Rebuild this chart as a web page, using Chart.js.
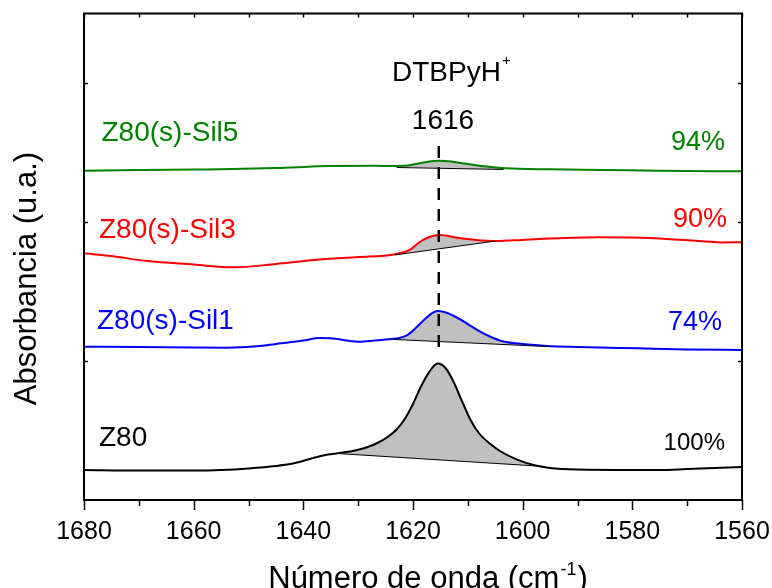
<!DOCTYPE html>
<html>
<head>
<meta charset="utf-8">
<script src="https://cdn.jsdelivr.net/npm/chart.js@4/dist/chart.umd.min.js"></script>
<style>
  html, body { margin: 0; padding: 0; background: #fff; }
  #wrap { width: 772px; height: 588px; }
</style>
</head>
<body>
<div id="wrap"><canvas id="c" width="772" height="588"></canvas></div>
<script>
// ---- data (wavenumber in cm-1, absorbance in arbitrary offset units) ----
const z80X = [1680,1670,1660,1655,1650,1645,1641.5,1638.5,1636,1634,1631,1628.5,1626.5,1624.5,1623,1621.5,1620,1618.5,1617,1615.5,1614,1612.5,1611,1609.5,1608,1606,1604,1601,1598,1595,1590,1580,1575,1570,1565,1560];
const z80Y = [0.216,0.212,0.212,0.216,0.227,0.245,0.266,0.299,0.324,0.335,0.353,0.378,0.410,0.457,0.507,0.583,0.691,0.820,0.924,0.982,0.946,0.842,0.705,0.576,0.482,0.406,0.349,0.291,0.252,0.230,0.219,0.216,0.216,0.223,0.230,0.237];

const sil1X = [1680,1670,1660,1654,1648,1644,1640,1637,1635,1632,1630,1627,1624.5,1622.5,1621,1619.5,1618,1616.5,1615.5,1614,1612,1610,1608,1606,1603.5,1600,1595.5,1590,1579,1570,1560];
const sil1Y = [1.103,1.101,1.097,1.096,1.108,1.127,1.147,1.165,1.164,1.147,1.139,1.147,1.156,1.165,1.187,1.237,1.295,1.345,1.360,1.349,1.313,1.266,1.216,1.176,1.140,1.122,1.108,1.101,1.091,1.083,1.079];

const sil3X = [1680,1675,1668.5,1660,1652.7,1645,1638,1630,1623.5,1620.6,1618.7,1616.9,1615.1,1612,1608.5,1605,1600,1595,1586,1576,1568,1564,1560];
const sil3Y = [1.775,1.755,1.719,1.694,1.674,1.698,1.727,1.748,1.766,1.799,1.858,1.894,1.906,1.887,1.871,1.863,1.871,1.881,1.890,1.883,1.863,1.853,1.854];

const sil5X = [1680,1670,1660,1655,1645,1635,1627,1623,1621,1619.5,1617.5,1615.3,1613,1611,1607.5,1603,1595,1585,1575,1560];
const sil5Y = [2.369,2.374,2.378,2.379,2.388,2.403,2.404,2.403,2.406,2.417,2.432,2.441,2.435,2.422,2.403,2.386,2.379,2.374,2.368,2.365];

// integration baselines (straight lines under the 1616 band)
const z80BaseX = [1634, 1596];      const z80BaseY = [0.335, 0.241];
const sil1BaseX = [1623.5, 1595.5]; const sil1BaseY = [1.155, 1.104];
const sil3BaseX = [1623.3, 1605];   const sil3BaseY = [1.763, 1.863];
const sil5BaseX = [1623, 1603.5];   const sil5BaseY = [2.392, 2.378];

// band marker
const bandX = [1615.3, 1615.3];
const bandY = [2.547, 1.079];

const seriesNames = ['Z80', 'Z80(s)-Sil1', 'Z80(s)-Sil3', 'Z80(s)-Sil5'];
const percentLabels = ['100%', '74%', '90%', '94%'];
const xTicks = [1680, 1660, 1640, 1620, 1600, 1580, 1560];

// ---- build ----
const FONT = "'Liberation Sans', Arial, sans-serif";
const pts = (xs, ys) => xs.map((x, i) => ({x: x, y: ys[i]}));
const colors = ['#000000', '#0000ff', '#ff0000', '#008000'];
const curves = [[z80X, z80Y], [sil1X, sil1Y], [sil3X, sil3Y], [sil5X, sil5Y]];
const bases = [[z80BaseX, z80BaseY], [sil1BaseX, sil1BaseY], [sil3BaseX, sil3BaseY], [sil5BaseX, sil5BaseY]];

const datasets = [];
curves.forEach((c, i) => {
  datasets.push({
    label: seriesNames[i], data: pts(c[0], c[1]),
    borderColor: colors[i], borderWidth: 2, pointRadius: 0,
    cubicInterpolationMode: 'monotone',
    fill: {target: 4 + i}, backgroundColor: '#c0c0c0', order: 2
  });
});
bases.forEach((b, i) => {
  datasets.push({
    label: 'base' + i, data: pts(b[0], b[1]),
    borderColor: '#000', borderWidth: 1, pointRadius: 0, fill: false, order: 1
  });
});
datasets.push({
  label: 'band', data: pts(bandX, bandY), borderColor: '#000', borderWidth: 2.5,
  borderDash: [12, 9], pointRadius: 0, fill: false, tension: 0, order: 0
});

const decor = {
  id: 'decor',
  afterDraw(chart) {
    const ctx = chart.ctx, a = chart.chartArea;
    const xs = chart.scales.x, ys = chart.scales.y;
    ctx.save();
    ctx.strokeStyle = '#000'; ctx.lineWidth = 1.5;
    // ticks
    ctx.beginPath();
    for (let v = 1560; v <= 1680; v += 10) {
      const px = Math.round(xs.getPixelForValue(v)) + 0.5;
      const major = v % 20 === 0;
      ctx.moveTo(px, a.bottom); ctx.lineTo(px, a.bottom + (major ? 10 : 6));
      ctx.moveTo(px, a.top); ctx.lineTo(px, a.top + 4);
    }
    for (let v = 1; v <= 3; v++) {
      const py = Math.round(ys.getPixelForValue(v)) + 0.5;
      ctx.moveTo(a.left, py); ctx.lineTo(a.left + 4, py);
      ctx.moveTo(a.right, py); ctx.lineTo(a.right - 4, py);
    }
    ctx.stroke();
    // frame
    ctx.lineWidth = 2;
    ctx.strokeRect(a.left, a.top, a.right - a.left, a.bottom - a.top);

    ctx.textBaseline = 'middle';
    // series names
    const nameY = [438, 321.7, 230, 133];
    const nameX = [99, 97, 99, 101.5];
    ctx.font = '28px ' + FONT; ctx.textAlign = 'left';
    seriesNames.forEach((n, i) => { ctx.fillStyle = colors[i]; ctx.fillText(n, nameX[i], nameY[i]); });
    // percentages
    const pY = [443, 323, 220, 143];
    const pX = [725, 722, 727, 725];
    ctx.textAlign = 'right';
    percentLabels.forEach((p, i) => {
      ctx.font = (i === 0 ? '24px ' : '27px ') + FONT;
      ctx.fillStyle = colors[i]; ctx.fillText(p, pX[i], pY[i]);
    });
    // band label
    ctx.fillStyle = '#000';
    ctx.font = '28px ' + FONT; ctx.textAlign = 'left';
    ctx.fillText('DTBPyH', 392, 73);
    const w = ctx.measureText('DTBPyH').width;
    ctx.font = '15px ' + FONT;
    ctx.fillText('+', 392 + w + 1, 61);
    ctx.font = '28px ' + FONT; ctx.textAlign = 'center';
    ctx.fillText('1616', 443, 121);
    // x title
    ctx.textBaseline = 'alphabetic';
    ctx.textAlign = 'left';
    const t1 = 'Número de onda (cm', sup = '-1', t2 = ')';
    ctx.font = '31px ' + FONT; const w1 = ctx.measureText(t1).width, w3 = ctx.measureText(t2).width;
    ctx.font = '18px ' + FONT; const w2 = ctx.measureText(sup).width;
    const tx = 427 - (w1 + w2 + w3) / 2;
    const ty = 588;
    ctx.font = '31px ' + FONT; ctx.fillText(t1, tx, ty);
    ctx.font = '18px ' + FONT; ctx.fillText(sup, tx + w1 + 1, ty - 13);
    ctx.font = '31px ' + FONT; ctx.fillText(t2, tx + w1 + w2 + 2, ty);
    // y title
    ctx.textBaseline = 'middle';
    ctx.translate(27, 278.5);
    ctx.rotate(-Math.PI / 2);
    ctx.textAlign = 'center';
    ctx.fillText('Absorbancia (u.a.)', 0, 0);
    ctx.restore();
  }
};

new Chart(document.getElementById('c'), {
  type: 'line',
  data: {datasets: datasets},
  options: {
    responsive: false, animation: false, devicePixelRatio: 1,
    layout: {padding: {left: 0, right: 30, top: 13.5, bottom: 0}},
    plugins: {legend: {display: false}, tooltip: {enabled: false}},
    scales: {
      x: {
        type: 'linear', reverse: true, min: 1560, max: 1680,
        border: {display: false},
        grid: {display: false, drawTicks: false},
        afterBuildTicks(s) { s.ticks = xTicks.map(v => ({value: v})); },
        ticks: {font: {family: FONT, size: 25}, color: '#000', padding: 17, maxRotation: 0, autoSkip: false,
                callback: v => String(v)},
        afterFit(s) { s.height = 88; s.paddingLeft = 0; s.paddingRight = 0; }
      },
      y: {
        min: 0, max: 3.5,
        border: {display: false},
        grid: {display: false, drawTicks: false},
        ticks: {display: false},
        afterFit(s) { s.width = 84; s.paddingTop = 0; s.paddingBottom = 0; }
      }
    }
  },
  plugins: [decor]
});
</script>
</body>
</html>
